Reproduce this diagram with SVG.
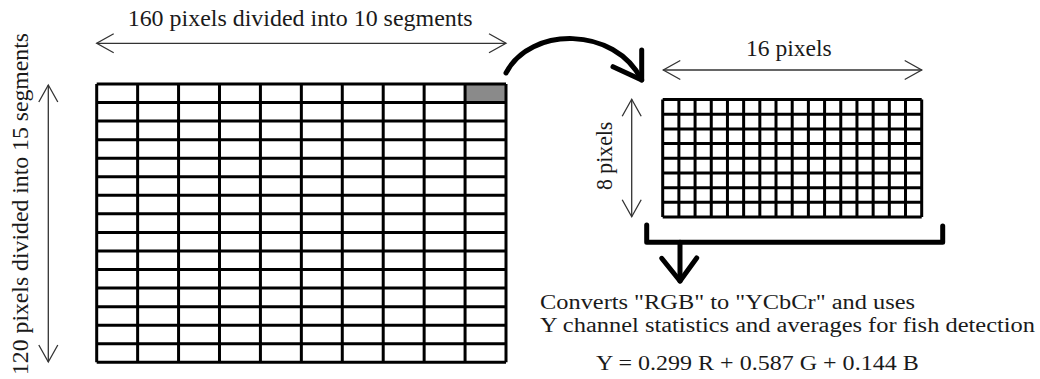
<svg xmlns="http://www.w3.org/2000/svg" width="1040" height="379" viewBox="0 0 1040 379">
<style>
.t{font-family:"Liberation Serif","Times New Roman",serif;fill:#1a1a1a;font-size:24px}
.s{font-size:20px}
.f{font-size:22px}
.grid{fill:none;stroke:#000;stroke-width:3}
.dim{fill:none;stroke:#333;stroke-width:1.3}
.thick{fill:none;stroke:#000;stroke-width:5;stroke-linecap:round;stroke-linejoin:round}
</style>
<defs>
<marker id="open" markerUnits="userSpaceOnUse" viewBox="-20 -12 22 24" refX="0" refY="0" markerWidth="22" markerHeight="24" orient="auto-start-reverse" overflow="visible">
<path d="M-17,-9.5 L0,0 L-17,9.5" fill="none" stroke="#333" stroke-width="1.3"/>
</marker>
</defs>
<rect width="1040" height="379" fill="#fff"/>

<g id="big-grid">
<rect x="465.07" y="84" width="40.93" height="18.55" fill="#8a8a8a"/>
<path class="grid" d="M96.7,84V362.3M137.63,84V362.3M178.56,84V362.3M219.49,84V362.3M260.42,84V362.3M301.35,84V362.3M342.28,84V362.3M383.21,84V362.3M424.14,84V362.3M465.07,84V362.3M506,84V362.3
M96.7,84H506M96.7,102.55H506M96.7,121.11H506M96.7,139.66H506M96.7,158.21H506M96.7,176.77H506M96.7,195.32H506M96.7,213.87H506M96.7,232.42H506M96.7,250.98H506M96.7,269.53H506M96.7,288.08H506M96.7,306.64H506M96.7,325.19H506M96.7,343.74H506M96.7,362.3H506"/>
</g>

<g id="small-grid">
<path class="grid" d="M662.7,99.5V217M678.89,99.5V217M695.08,99.5V217M711.26,99.5V217M727.45,99.5V217M743.64,99.5V217M759.83,99.5V217M776.01,99.5V217M792.2,99.5V217M808.39,99.5V217M824.58,99.5V217M840.76,99.5V217M856.95,99.5V217M873.14,99.5V217M889.33,99.5V217M905.51,99.5V217M921.7,99.5V217
M662.7,99.5H921.7M662.7,114.19H921.7M662.7,128.88H921.7M662.7,143.56H921.7M662.7,158.25H921.7M662.7,172.94H921.7M662.7,187.63H921.7M662.7,202.31H921.7M662.7,217H921.7"/>
</g>

<g id="label-top">
<text class="t" x="127.7" y="26" textLength="345" lengthAdjust="spacingAndGlyphs">160 pixels divided into 10 segments</text>
</g>
<g id="label-left">
<text class="t" transform="translate(28,375) rotate(-90)" textLength="342" lengthAdjust="spacingAndGlyphs">120 pixels divided into 15 segments</text>
</g>
<g id="label-16">
<text class="t" x="746" y="56" textLength="85.7" lengthAdjust="spacingAndGlyphs">16 pixels</text>
</g>
<g id="label-8">
<text class="t" transform="translate(612,190) rotate(-90)" textLength="68.3" lengthAdjust="spacingAndGlyphs">8 pixels</text>
</g>
<g id="label-desc">
<text class="t s" x="540" y="309" textLength="375" lengthAdjust="spacingAndGlyphs">Converts "RGB" to "YCbCr" and uses</text>
<text class="t s" x="540" y="331.5" textLength="495" lengthAdjust="spacingAndGlyphs">Y channel statistics and averages for fish detection</text>
</g>
<g id="label-formula">
<text class="t f" x="596" y="370" textLength="322.7" lengthAdjust="spacingAndGlyphs">Y = 0.299 R + 0.587 G + 0.144 B</text>
</g>

<g id="connectors">
<line class="dim" x1="96.7" y1="43.3" x2="506" y2="43.3" marker-start="url(#open)" marker-end="url(#open)"/>
<line class="dim" x1="48.3" y1="85" x2="48.3" y2="362" marker-start="url(#open)" marker-end="url(#open)"/>
<line class="dim" x1="663.3" y1="70" x2="921.7" y2="70" marker-start="url(#open)" marker-end="url(#open)"/>
<line class="dim" x1="631.7" y1="99.3" x2="631.7" y2="216.7" marker-start="url(#open)" marker-end="url(#open)"/>
<path class="thick" d="M506,73 C530,26 615,26 641.7,80"/>
<path class="thick" d="M613,66.7 L641.7,80 L641.7,50"/>
<path class="thick" d="M646.7,225 L646.7,242.3 L942.7,242.3 L942.7,226"/>
<path class="thick" d="M680,242.3 L680,281"/>
<path class="thick" d="M661.7,258.3 L680,281 L696.7,258"/>
</g>
</svg>
